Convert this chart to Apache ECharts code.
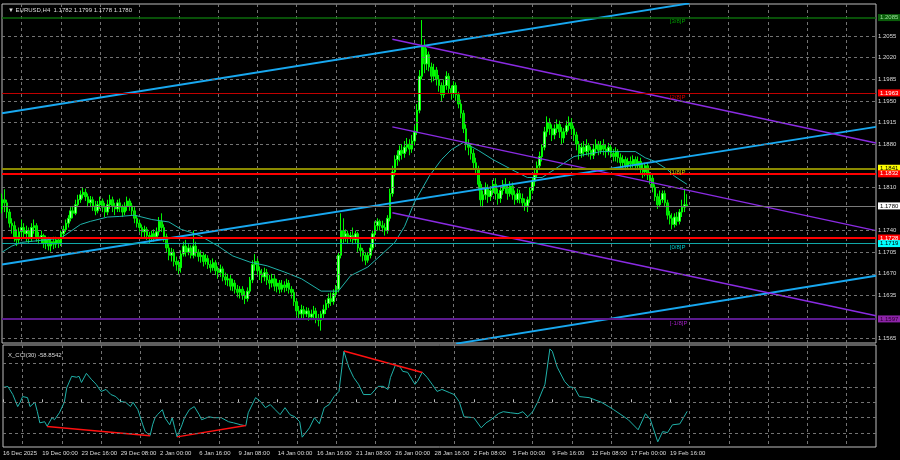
<!DOCTYPE html>
<html>
<head>
<meta charset="utf-8">
<title>EURUSD H4</title>
<script src="https://cdn.jsdelivr.net/npm/echarts@6/dist/echarts.min.js"></script>
<style>
html,body{margin:0;padding:0;background:#000;overflow:hidden;}
#chart{width:900px;height:460px;}
</style>
</head>
<body>
<div id="chart"></div>
<script>
// ================= DATA =================
const symbolName = 'EURUSD,H4';
const tickStep = 16;
const slotCount = 357;
const timeLabels = ['16 Dec 2025','19 Dec 00:00','23 Dec 16:00','29 Dec 08:00','2 Jan 00:00','6 Jan 16:00','9 Jan 08:00','14 Jan 00:00','16 Jan 16:00','21 Jan 08:00','26 Jan 00:00','28 Jan 16:00','2 Feb 08:00','5 Feb 00:00','9 Feb 16:00','12 Feb 08:00','17 Feb 00:00','19 Feb 16:00'];
const priceTicks = [1.1565,1.1600,1.1635,1.1670,1.1705,1.1740,1.1775,1.1810,1.1845,1.1880,1.1915,1.1950,1.1985,1.2020,1.2055,1.2090];

const open = [
1.1775,1.1790,1.1785,1.1770,1.1752,1.1748,1.1730,1.1725,1.1738,1.1745,
1.1735,1.1740,1.1728,1.1745,1.1748,1.1730,1.1728,1.1732,1.1720,1.1725,
1.1715,1.1722,1.1718,1.1725,1.1720,1.1735,1.1742,1.1752,1.1760,1.1772,
1.1768,1.1782,1.1790,1.1798,1.1802,1.1795,1.1785,1.1790,1.1780,1.1772,
1.1782,1.1788,1.1778,1.1770,1.1782,1.1790,1.1780,1.1775,1.1785,1.1778,
1.1770,1.1780,1.1788,1.1780,1.1772,1.1760,1.1752,1.1745,1.1738,1.1742,
1.1732,1.1728,1.1735,1.1730,1.1738,1.1755,1.1745,1.1730,1.1712,1.1700,
1.1705,1.1690,1.1685,1.1680,1.1702,1.1715,1.1705,1.1712,1.1700,1.1715,
1.1705,1.1698,1.1700,1.1690,1.1695,1.1685,1.1680,1.1688,1.1675,1.1672,
1.1678,1.1665,1.1660,1.1662,1.1650,1.1655,1.1645,1.1640,1.1645,1.1635,
1.1630,1.1642,1.1660,1.1685,1.1690,1.1675,1.1670,1.1665,1.1672,1.1660,
1.1655,1.1662,1.1650,1.1655,1.1645,1.1652,1.1648,1.1655,1.1645,1.1640,
1.1625,1.1610,1.1605,1.1612,1.1605,1.1610,1.1600,1.1605,1.1610,1.1598,
1.1595,1.1605,1.1612,1.1622,1.1630,1.1625,1.1638,1.1645,1.1700,1.1740,
1.1730,1.1735,1.1728,1.1732,1.1725,1.1735,1.1712,1.1708,1.1700,1.1692,
1.1700,1.1712,1.1735,1.1748,1.1755,1.1748,1.1745,1.1740,1.1760,1.1800,
1.1835,1.1855,1.1862,1.1870,1.1865,1.1875,1.1880,1.1872,1.1885,1.1900,
1.1935,1.1990,1.2040,1.2010,1.2025,1.2005,1.1990,1.2000,1.1985,1.1975,
1.1960,1.1975,1.1990,1.1970,1.1962,1.1975,1.1960,1.1945,1.1930,1.1905,
1.1880,1.1875,1.1865,1.1850,1.1840,1.1815,1.1790,1.1798,1.1810,1.1795,
1.1805,1.1815,1.1800,1.1792,1.1805,1.1815,1.1808,1.1800,1.1812,1.1798,
1.1790,1.1800,1.1792,1.1785,1.1780,1.1790,1.1805,1.1820,1.1830,1.1845,
1.1860,1.1875,1.1900,1.1915,1.1905,1.1895,1.1905,1.1912,1.1900,1.1890,
1.1900,1.1910,1.1915,1.1905,1.1895,1.1880,1.1865,1.1875,1.1868,1.1878,
1.1870,1.1862,1.1872,1.1880,1.1870,1.1878,1.1872,1.1868,1.1875,1.1865,
1.1860,1.1868,1.1858,1.1850,1.1855,1.1845,1.1852,1.1848,1.1855,1.1845,
1.1852,1.1840,1.1835,1.1845,1.1830,1.1825,1.1810,1.1795,1.1782,1.1790,
1.1800,1.1785,1.1765,1.1760,1.1750,1.1762,1.1755,1.1770,1.1778,1.1782];

const close = [
1.1790,1.1785,1.1770,1.1752,1.1748,1.1730,1.1725,1.1738,1.1745,1.1735,
1.1740,1.1728,1.1745,1.1748,1.1730,1.1728,1.1732,1.1720,1.1725,1.1715,
1.1722,1.1718,1.1725,1.1720,1.1735,1.1742,1.1752,1.1760,1.1772,1.1768,
1.1782,1.1790,1.1798,1.1802,1.1795,1.1785,1.1790,1.1780,1.1772,1.1782,
1.1788,1.1778,1.1770,1.1782,1.1790,1.1780,1.1775,1.1785,1.1778,1.1770,
1.1780,1.1788,1.1780,1.1772,1.1760,1.1752,1.1745,1.1738,1.1742,1.1732,
1.1728,1.1735,1.1730,1.1738,1.1755,1.1745,1.1730,1.1712,1.1700,1.1705,
1.1690,1.1685,1.1680,1.1702,1.1715,1.1705,1.1712,1.1700,1.1715,1.1705,
1.1698,1.1700,1.1690,1.1695,1.1685,1.1680,1.1688,1.1675,1.1672,1.1678,
1.1665,1.1660,1.1662,1.1650,1.1655,1.1645,1.1640,1.1645,1.1635,1.1630,
1.1642,1.1660,1.1685,1.1690,1.1675,1.1670,1.1665,1.1672,1.1660,1.1655,
1.1662,1.1650,1.1655,1.1645,1.1652,1.1648,1.1655,1.1645,1.1640,1.1625,
1.1610,1.1605,1.1612,1.1605,1.1610,1.1600,1.1605,1.1610,1.1598,1.1595,
1.1605,1.1612,1.1622,1.1630,1.1625,1.1638,1.1645,1.1700,1.1740,1.1730,
1.1735,1.1728,1.1732,1.1725,1.1735,1.1712,1.1708,1.1700,1.1692,1.1700,
1.1712,1.1735,1.1748,1.1755,1.1748,1.1745,1.1740,1.1760,1.1800,1.1835,
1.1855,1.1862,1.1870,1.1865,1.1875,1.1880,1.1872,1.1885,1.1900,1.1935,
1.1990,1.2040,1.2010,1.2025,1.2005,1.1990,1.2000,1.1985,1.1975,1.1960,
1.1975,1.1990,1.1970,1.1962,1.1975,1.1960,1.1945,1.1930,1.1905,1.1880,
1.1875,1.1865,1.1850,1.1840,1.1815,1.1790,1.1798,1.1810,1.1795,1.1805,
1.1815,1.1800,1.1792,1.1805,1.1815,1.1808,1.1800,1.1812,1.1798,1.1790,
1.1800,1.1792,1.1785,1.1780,1.1790,1.1805,1.1820,1.1830,1.1845,1.1860,
1.1875,1.1900,1.1915,1.1905,1.1895,1.1905,1.1912,1.1900,1.1890,1.1900,
1.1910,1.1915,1.1905,1.1895,1.1880,1.1865,1.1875,1.1868,1.1878,1.1870,
1.1862,1.1872,1.1880,1.1870,1.1878,1.1872,1.1868,1.1875,1.1865,1.1860,
1.1868,1.1858,1.1850,1.1855,1.1845,1.1852,1.1848,1.1855,1.1845,1.1852,
1.1840,1.1835,1.1845,1.1830,1.1825,1.1810,1.1795,1.1782,1.1790,1.1800,
1.1785,1.1765,1.1760,1.1750,1.1762,1.1755,1.1770,1.1778,1.1782,1.1780];

const low = [
1.1768,1.1770,1.1760,1.1745,1.1735,1.1722,1.1715,1.1718,1.1728,1.1728,
1.1722,1.1720,1.1722,1.1735,1.1722,1.1718,1.1720,1.1712,1.1710,1.1708,
1.1706,1.1710,1.1712,1.1712,1.1715,1.1728,1.1738,1.1745,1.1755,1.1760,
1.1765,1.1778,1.1785,1.1792,1.1788,1.1778,1.1778,1.1772,1.1765,1.1768,
1.1775,1.1770,1.1762,1.1765,1.1775,1.1770,1.1765,1.1770,1.1770,1.1762,
1.1765,1.1772,1.1772,1.1765,1.1752,1.1745,1.1738,1.1730,1.1728,1.1725,
1.1720,1.1722,1.1722,1.1725,1.1732,1.1738,1.1722,1.1705,1.1692,1.1690,
1.1682,1.1675,1.1668,1.1672,1.1698,1.1698,1.1700,1.1695,1.1695,1.1698,
1.1690,1.1688,1.1682,1.1685,1.1678,1.1672,1.1675,1.1668,1.1662,1.1665,
1.1658,1.1652,1.1650,1.1643,1.1642,1.1638,1.1632,1.1630,1.1628,1.1621,
1.1625,1.1638,1.1655,1.1675,1.1668,1.1660,1.1655,1.1658,1.1652,1.1645,
1.1648,1.1642,1.1640,1.1638,1.1640,1.1640,1.1642,1.1638,1.1630,1.1618,
1.1602,1.1598,1.1598,1.1598,1.1600,1.1594,1.1595,1.1598,1.1590,1.1585,
1.1578,1.1598,1.1605,1.1615,1.1618,1.1620,1.1632,1.1640,1.1695,1.1720,
1.1722,1.1720,1.1722,1.1718,1.1720,1.1705,1.1698,1.1690,1.1684,1.1688,
1.1695,1.1708,1.1730,1.1740,1.1740,1.1738,1.1732,1.1735,1.1755,1.1795,
1.1828,1.1845,1.1852,1.1855,1.1858,1.1868,1.1862,1.1866,1.1878,1.1895,
1.1930,1.1985,1.1995,1.2000,1.1998,1.1980,1.1982,1.1975,1.1965,1.1950,
1.1955,1.1968,1.1962,1.1952,1.1955,1.1950,1.1938,1.1922,1.1898,1.1870,
1.1862,1.1855,1.1840,1.1830,1.1805,1.1780,1.1778,1.1790,1.1785,1.1788,
1.1798,1.1790,1.1782,1.1785,1.1798,1.1800,1.1790,1.1795,1.1790,1.1782,
1.1785,1.1784,1.1778,1.1772,1.1770,1.1785,1.1800,1.1812,1.1825,1.1838,
1.1852,1.1870,1.1892,1.1895,1.1885,1.1888,1.1898,1.1890,1.1880,1.1882,
1.1895,1.1902,1.1895,1.1885,1.1870,1.1855,1.1858,1.1860,1.1862,1.1860,
1.1855,1.1856,1.1865,1.1862,1.1864,1.1862,1.1858,1.1862,1.1858,1.1852,
1.1852,1.1850,1.1842,1.1840,1.1838,1.1840,1.1840,1.1842,1.1838,1.1838,
1.1832,1.1825,1.1828,1.1822,1.1815,1.1802,1.1788,1.1775,1.1778,1.1785,
1.1778,1.1758,1.1750,1.1742,1.1745,1.1748,1.1750,1.1762,1.1770,1.1778];

const high = [
1.1800,1.1807,1.1790,1.1775,1.1760,1.1755,1.1742,1.1745,1.1758,1.1752,
1.1748,1.1745,1.1752,1.1758,1.1752,1.1738,1.1740,1.1735,1.1732,1.1730,
1.1728,1.1730,1.1730,1.1728,1.1740,1.1748,1.1758,1.1765,1.1778,1.1780,
1.1790,1.1798,1.1805,1.1810,1.1808,1.1800,1.1796,1.1795,1.1788,1.1788,
1.1795,1.1792,1.1785,1.1790,1.1798,1.1795,1.1785,1.1790,1.1792,1.1782,
1.1786,1.1795,1.1792,1.1785,1.1778,1.1765,1.1758,1.1750,1.1748,1.1746,
1.1738,1.1740,1.1742,1.1745,1.1762,1.1768,1.1750,1.1735,1.1718,1.1712,
1.1710,1.1698,1.1692,1.1708,1.1722,1.1725,1.1718,1.1716,1.1740,1.1722,
1.1710,1.1708,1.1705,1.1702,1.1700,1.1692,1.1695,1.1692,1.1682,1.1685,
1.1682,1.1672,1.1670,1.1668,1.1662,1.1660,1.1652,1.1650,1.1650,1.1642,
1.1648,1.1665,1.1692,1.1702,1.1695,1.1682,1.1678,1.1680,1.1678,1.1668,
1.1670,1.1668,1.1662,1.1660,1.1660,1.1658,1.1662,1.1660,1.1650,1.1645,
1.1630,1.1618,1.1620,1.1618,1.1616,1.1615,1.1612,1.1618,1.1615,1.1605,
1.1610,1.1620,1.1628,1.1638,1.1640,1.1645,1.1652,1.1705,1.1768,1.1760,
1.1742,1.1740,1.1738,1.1745,1.1740,1.1738,1.1718,1.1712,1.1705,1.1705,
1.1718,1.1740,1.1755,1.1760,1.1758,1.1756,1.1752,1.1765,1.1808,1.1845,
1.1862,1.1870,1.1878,1.1880,1.1885,1.1890,1.1888,1.1895,1.1910,1.1945,
1.2000,1.2081,1.2050,1.2035,1.2030,1.2012,1.2010,1.2005,1.1992,1.1980,
1.1985,1.1998,1.1995,1.1975,1.1982,1.1980,1.1965,1.1952,1.1935,1.1912,
1.1888,1.1880,1.1872,1.1858,1.1845,1.1820,1.1805,1.1818,1.1815,1.1812,
1.1822,1.1825,1.1808,1.1812,1.1822,1.1825,1.1815,1.1820,1.1818,1.1805,
1.1808,1.1806,1.1800,1.1792,1.1795,1.1810,1.1825,1.1838,1.1852,1.1868,
1.1880,1.1908,1.1925,1.1922,1.1912,1.1912,1.1920,1.1918,1.1908,1.1906,
1.1918,1.1925,1.1922,1.1910,1.1900,1.1885,1.1882,1.1885,1.1888,1.1882,
1.1876,1.1880,1.1888,1.1885,1.1885,1.1888,1.1880,1.1882,1.1880,1.1872,
1.1875,1.1872,1.1865,1.1862,1.1860,1.1858,1.1860,1.1862,1.1860,1.1860,
1.1858,1.1848,1.1850,1.1850,1.1835,1.1830,1.1815,1.1800,1.1805,1.1805,
1.1805,1.1790,1.1772,1.1768,1.1768,1.1770,1.1775,1.1790,1.1808,1.1799];

// moving average: [bar index, price]
const maPoints = [[0,1.1705],[4,1.1715],[8,1.1721],[13,1.1723],[20,1.1726],[24,1.1728],[28,1.1739],[32,1.1750],[36,1.1755],[43,1.1762],[48,1.1763],[54,1.1765],[61,1.1758],[68,1.1754],[73,1.1742],[77,1.1737],[81,1.1731],[88,1.1715],[94,1.1699],[101,1.1689],[108,1.1683],[115,1.1673],[122,1.1662],[130,1.1642],[137,1.1642],[142,1.1667],[149,1.1681],[154,1.1699],[160,1.1721],[164,1.1747],[168,1.1786],[174,1.1828],[179,1.1855],[183,1.1871],[188,1.1883],[194,1.1870],[200,1.1855],[209,1.1836],[214,1.1826],[220,1.1826],[225,1.1839],[233,1.1860],[244,1.1868],[250,1.1868],[258,1.1868],[262,1.1858],[266,1.1852],[271,1.1839],[274,1.1828],[279,1.1815]];

// CCI(30): [bar index, value]
const cciName = 'X_CCI(30)';
const cciPoints = [[0,96],[2,102],[4,50],[6,-28],[7,0],[8,37],[10,30],[11,-28],[13,0],[14,-60],[15,-133],[17,-126],[18,-155],[20,-100],[21,-113],[23,-68],[25,0],[26,94],[28,168],[30,162],[31,168],[32,128],[34,187],[36,149],[38,116],[40,70],[42,83],[44,50],[46,37],[48,5],[50,0],[52,-28],[53,0],[55,-48],[57,-146],[58,-190],[60,-215],[61,-146],[62,-100],[63,-80],[65,-48],[66,-100],[68,-146],[69,-100],[70,-165],[71,-224],[73,-146],[74,-100],[76,-48],[78,-28],[80,-80],[81,-113],[84,-94],[86,-100],[89,-100],[92,-126],[94,-133],[97,-146],[99,-152],[100,-68],[103,30],[105,5],[107,-35],[109,-15],[111,-48],[113,-80],[115,-35],[117,-80],[119,-94],[121,-126],[122,-226],[125,-165],[127,-100],[129,-139],[131,-35],[133,-15],[135,37],[137,70],[139,330],[141,227],[143,160],[145,116],[147,50],[150,50],[153,103],[155,103],[157,83],[158,160],[160,240],[162,227],[163,200],[165,194],[168,116],[169,135],[171,194],[173,160],[175,116],[177,70],[179,83],[182,63],[184,50],[186,5],[188,-94],[192,-100],[195,-165],[197,-133],[199,-113],[202,-74],[204,-61],[207,-68],[210,-74],[212,-61],[214,-94],[216,-61],[218,0],[221,116],[223,345],[224,330],[226,227],[229,135],[231,100],[233,94],[235,37],[239,30],[241,18],[244,0],[247,-28],[249,-48],[252,-80],[255,-113],[259,-178],[262,-74],[264,-113],[267,-256],[269,-190],[271,-196],[273,-146],[276,-140],[279,-58.8542]];
const cciLevels = [250,200,100,0,-100,-200,-250];
const cciGridLevels = [250,100,0,-100,-200];
const cciRangeLabels = ['375.7568','-391.138'];
const cciDivergence = [[[18,-157],[60,-217]],[[71,-224],[99,-150]],[[139,332],[171,192]]];

// horizontal levels (price) and Murrey labels
const levelValues = [1.2085,1.1963,1.1841,1.1832,1.1780,1.1728,1.1719,1.1597];
const murreyValues = [1.2085,1.1963,1.1841,1.1719,1.1597];
const murreyNames = ['[3/8]P','[2/8]P','[1/8]P','[0/8]P','[-1/8]P'];

// trend lines: [[bar, price],[bar, price]]
const channelBlue = [[[0,1.1930],[280,1.2108]],[[0,1.1685],[356,1.1908]],[[185,1.1557],[356,1.1667]]];
const channelPurple = [[[159,1.2050],[356,1.1882]],[[159,1.1908],[356,1.1740]],[[159,1.1769],[356,1.1602]]];

// ================= STYLE =================
const FONT = 'Liberation Sans';
const TXT = '#dcdcdc';
const FS = 6;
const gridDash = {color:'#737373', type:[3,3], width:1};
const levelStyles = [
  {line:'#0b6b0b', width:1.5, bg:'#0b5f0b', fg:'#9be09b'},
  {line:'#c00000', width:1,   bg:'#ff0000', fg:'#ffffff'},
  {line:'#8a8a00', width:2,   bg:'#ffff00', fg:'#000000'},
  {line:'#ff0000', width:2,   bg:'#ff0000', fg:'#ffffff'},
  {line:'#7a7a7a', width:1,   bg:'#ffffff', fg:'#000000'},
  {line:'#ff0000', width:2,   bg:'#ff0000', fg:'#ffffff'},
  {line:'#10a8a8', width:1,   bg:'#00ffff', fg:'#000000'},
  {line:'#5b1a8e', width:2,   bg:'#8e24aa', fg:'#2a002a'}
];
const murreyColors = ['#00a000','#d00000','#c8c800','#00c8c8','#a020c0'];
const murreyBar = 272;
const mainMin = 1.1558, mainMax = 1.2107;
const cciMin = -289.5, cciMax = 370.6;

// ================= BUILD =================
const n = close.length;
const cats = Array.from({length: slotCount}, (_, i) => String(i));
const candles = open.map((o, i) => [o, close[i], low[i], high[i]]);
const isTick = (i) => i % tickStep === 0 && i / tickStep < timeLabels.length;
// grid lines hidden where an object line lies on top of them
const coveredByLevel = (v) => levelValues.some(l => Math.abs(l - v) < 0.0006);

function xAxisFor(g, withLabels) {
  return {
    type: 'category', gridIndex: g, data: cats, boundaryGap: false,
    axisLine: {show: false},
    axisTick: {show: withLabels, inside: true, length: 3, interval: isTick, lineStyle: {color: '#bdbdbd'}},
    axisLabel: {show: withLabels, interval: isTick, formatter: (v) => timeLabels[Number(v) / tickStep] || '',
      align: 'left', color: TXT, fontSize: FS, fontFamily: FONT, margin: 3},
    splitLine: {show: true, interval: (i) => i % tickStep === tickStep / 2, lineStyle: gridDash}
  };
}

const mainMark = priceTicks.map(v => ({
  yAxis: v, lineStyle: coveredByLevel(v) ? {opacity: 0} : gridDash, label: {formatter: v.toFixed(4), color: TXT}
})).concat(levelValues.map((v, k) => ({
  yAxis: v,
  lineStyle: {color: levelStyles[k].line, width: levelStyles[k].width, type: 'solid'},
  label: {formatter: v.toFixed(4), color: levelStyles[k].fg, backgroundColor: levelStyles[k].bg, padding: [1, 2, 0, 2]}
})));

const cciMark = cciGridLevels.map(v => ({yAxis: v, lineStyle: gridDash, label: {show: false}}))
  .concat(cciLevels.map(v => ({yAxis: v, lineStyle: {opacity: 0}, label: {formatter: v === 0 ? '0.00' : String(v)}})))
  .concat([
    {yAxis: cciMax - 18, lineStyle: {opacity: 0}, label: {formatter: cciRangeLabels[0]}},
    {yAxis: cciMin + 26, lineStyle: {opacity: 0}, label: {formatter: cciRangeLabels[1]}}
  ]);

const murreyPoints = murreyValues.map((v, k) => ({
  coord: [murreyBar, v],
  label: {show: true, formatter: murreyNames[k], color: murreyColors[k], position: [0, 1], align: 'left', verticalAlign: 'top', fontSize: FS, fontFamily: FONT}
}));

function segSeries(pts, color, width, xi, yi) {
  return {type: 'line', xAxisIndex: xi, yAxisIndex: yi, data: pts, showSymbol: false, symbol: 'none', clip: true,
    lineStyle: {color: color, width: width}, silent: true, z: 4};
}

const series = [
  {
    type: 'candlestick', xAxisIndex: 0, yAxisIndex: 0, data: candles, barWidth: 2, clip: true,
    itemStyle: {color: '#a8ffa8', color0: '#00d000', borderColor: '#00ff00', borderColor0: '#00f000', borderWidth: 1},
    markLine: {silent: true, symbol: ['none', 'none'], animation: false, precision: 4,
      label: {position: 'end', distance: 2, fontSize: FS, fontFamily: FONT}, data: mainMark},
    markPoint: {symbol: 'circle', symbolSize: 0, silent: true, animation: false, data: murreyPoints},
    z: 2
  },
  {type: 'line', xAxisIndex: 0, yAxisIndex: 0, data: maPoints, showSymbol: false, symbol: 'none', clip: true,
    lineStyle: {color: '#20b2aa', width: 1}, silent: true, z: 3}
];
channelBlue.forEach(p => series.push(segSeries(p, '#18a8f0', 2, 0, 0)));
channelPurple.forEach(p => series.push(segSeries(p, '#8a2be2', 1.5, 0, 0)));
series.push({
  type: 'line', xAxisIndex: 1, yAxisIndex: 1, data: cciPoints, showSymbol: false, symbol: 'none', clip: true,
  lineStyle: {color: '#20b2aa', width: 1}, silent: true, z: 3,
  markLine: {silent: true, symbol: ['none', 'none'], animation: false,
    label: {position: 'end', distance: 2, fontSize: FS, fontFamily: FONT, color: TXT}, data: cciMark}
});
cciDivergence.forEach(p => series.push(segSeries(p, '#ff1010', 1.5, 1, 1)));

const last = n - 1;
const option = {
  backgroundColor: '#000000',
  animation: false,
  title: [
    {text: '\u25BC ' + symbolName + '  ' + [open[last], high[last], low[last], close[last]].map(v => v.toFixed(4)).join(' '),
      left: 3, top: 2, textStyle: {color: TXT, fontSize: FS, fontWeight: 'normal', fontFamily: FONT}},
    {text: cciName + ' ' + cciPoints[cciPoints.length - 1][1].toFixed(4),
      left: 3, top: 347, textStyle: {color: TXT, fontSize: FS, fontWeight: 'normal', fontFamily: FONT}}
  ],
  grid: [
    {left: 2, top: 4, width: 874, height: 339, show: true, borderColor: '#bdbdbd', borderWidth: 1, backgroundColor: 'transparent'},
    {left: 2, top: 345, width: 874, height: 102, show: true, borderColor: '#bdbdbd', borderWidth: 1, backgroundColor: 'transparent'}
  ],
  xAxis: [xAxisFor(0, false), xAxisFor(1, true)],
  yAxis: [
    {type: 'value', gridIndex: 0, min: mainMin, max: mainMax, show: false, splitLine: {show: false}},
    {type: 'value', gridIndex: 1, min: cciMin, max: cciMax, show: false, splitLine: {show: false}}
  ],
  series: series
};

const chart = echarts.init(document.getElementById('chart'), null, {renderer: 'canvas'});
chart.setOption(option);
</script>
</body>
</html>
